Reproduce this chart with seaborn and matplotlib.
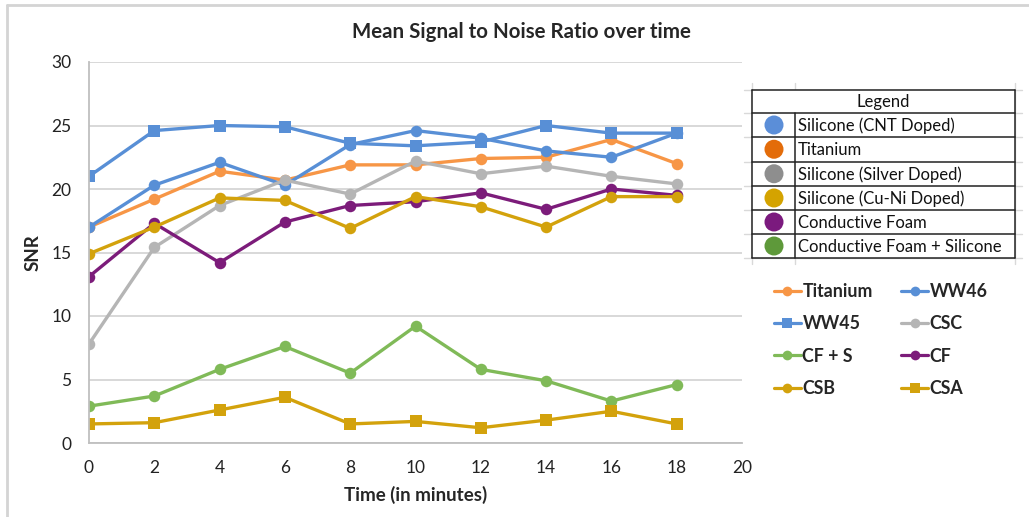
import numpy as np
import pandas as pd
import seaborn as sns
import matplotlib.pyplot as plt
from matplotlib.lines import Line2D
from matplotlib.patches import Circle

# ---- data ---------------------------------------------------------------
time_min = [0, 2, 4, 6, 8, 10, 12, 14, 16, 18]

titanium = [17.0, 19.2, 21.4, 20.7, 21.9, 21.9, 22.4, 22.5, 23.9, 22.0]
ww46 = [17.0, 20.3, 22.1, 20.3, 23.5, 24.6, 24.0, 23.0, 22.5, 24.4]
ww45 = [21.0, 24.6, 25.0, 24.9, 23.6, 23.4, 23.7, 25.0, 24.4, 24.4]
csc = [7.8, 15.4, 18.7, 20.7, 19.6, 22.2, 21.2, 21.8, 21.0, 20.4]
cf_s = [2.9, 3.7, 5.8, 7.6, 5.5, 9.2, 5.8, 4.9, 3.3, 4.6]
cf = [13.1, 17.3, 14.2, 17.4, 18.7, 19.0, 19.7, 18.4, 20.0, 19.5]
csb = [14.9, 17.0, 19.3, 19.1, 16.9, 19.4, 18.6, 17.0, 19.4, 19.4]
csa = [1.5, 1.6, 2.6, 3.6, 1.5, 1.7, 1.2, 1.8, 2.5, 1.5]

series_names = ["Titanium", "WW46", "WW45", "CSC", "CF + S", "CF", "CSB", "CSA"]
series_values = [titanium, ww46, ww45, csc, cf_s, cf, csb, csa]

material_labels = ["Silicone (CNT Doped)", "Titanium", "Silicone (Silver Doped)",
                   "Silicone (Cu-Ni Doped)", "Conductive Foam",
                   "Conductive Foam + Silicone"]

x_ticks = list(range(0, 21, 2))
y_ticks = list(range(0, 31, 5))

# ---- styles -------------------------------------------------------------
palette = {"Titanium": "#F79646", "WW46": "#588FD6", "WW45": "#588FD6",
           "CSC": "#B5B5B5", "CF + S": "#80BA58", "CF": "#7C1C7A",
           "CSB": "#D3A20C", "CSA": "#D3A20C"}
markers = {"Titanium": "o", "WW46": "o", "WW45": "s", "CSC": "o",
           "CF + S": "o", "CF": "o", "CSB": "o", "CSA": "s"}
material_colors = ["#5B8ED8", "#E36C0A", "#8E8E8E", "#D4A300", "#7B1A7E", "#5E993A"]

df = pd.DataFrame({
    "time": np.tile(time_min, len(series_names)),
    "snr": np.concatenate(series_values),
    "series": np.repeat(series_names, len(time_min)),
})

sns.set_style("white")
plt.rcParams["font.family"] = ["Lato", "DejaVu Sans"]

W, H = 1029, 517
fig = plt.figure(figsize=(W / 100, H / 100), dpi=100)


def px_rect(x0, y0, x1, y1):
    return [x0 / W, 1 - y1 / H, (x1 - x0) / W, (y1 - y0) / H]


ax = fig.add_axes(px_rect(89, 62, 742, 443))

sns.lineplot(data=df, x="time", y="snr", hue="series", style="series",
             hue_order=series_names, style_order=series_names,
             palette=palette, markers=markers, dashes=False,
             linewidth=2.4, markersize=8.3, markeredgewidth=0,
             legend=False, ax=ax)

ax.set_xlim(0, 20)
ax.set_ylim(0, 30)
ax.set_xticks(x_ticks)
ax.set_yticks(y_ticks)
ax.grid(axis="y", color="#D6D6D6", linewidth=1.3)
ax.set_axisbelow(True)
for side in ("top", "right"):
    ax.spines[side].set_visible(False)
for side in ("left", "bottom"):
    ax.spines[side].set_color("#BFBFBF")
    ax.spines[side].set_linewidth(1.3)
ax.tick_params(axis="both", length=4.5, width=1.2, color="#BFBFBF",
               labelsize=12.5, labelcolor="#222222", pad=8, direction="out")
ax.set_xlabel("Time (in minutes)", fontsize=13.5, fontweight="bold", labelpad=7)
ax.set_ylabel("SNR", fontsize=13.5, fontweight="bold", labelpad=7)
fig.text(521 / W, 1 - 32 / H, "Mean Signal to Noise Ratio over time",
         ha="center", va="center", fontsize=14.8, fontweight="bold")

# ---- line legend --------------------------------------------------------
handles = {n: Line2D([], [], color=palette[n], marker=markers[n], linewidth=2.3,
                     markersize=7, markeredgewidth=0) for n in series_names}
legend_order = ["Titanium", "WW45", "CF + S", "CSB", "WW46", "CSC", "CF", "CSA"]
fig.legend([handles[n] for n in legend_order], legend_order,
           loc="upper left", bbox_to_anchor=(758 / W, 1 - 267 / H),
           ncol=2, frameon=False, handlelength=1.5,
           handletextpad=0.1, columnspacing=1.6, labelspacing=0.86,
           prop={"weight": "bold", "size": 12.8})

# ---- material key table -------------------------------------------------
tab = fig.add_axes([0, 0, 1, 1], facecolor="none")
tab.set_xlim(0, W)
tab.set_ylim(H, 0)
tab.axis("off")

row_edges = [90, 113, 137, 161.5, 186, 210, 234, 258]
x_left, x_div, x_right = 752, 795, 1014.5

# faint sheet gridlines peeking out around the table
for y in row_edges:
    tab.plot([744, 1022], [y, y], color="#D9D9D9", linewidth=1, zorder=1)
for x in (x_left, x_div, x_right):
    tab.plot([x, x], [83, 264], color="#D9D9D9", linewidth=1, zorder=1)

tab.add_patch(plt.Rectangle((x_left, row_edges[0]), x_right - x_left,
                            row_edges[-1] - row_edges[0], facecolor="white",
                            edgecolor="none", zorder=2))
for y in row_edges:
    tab.plot([x_left, x_right], [y, y], color="#222222", linewidth=1.1, zorder=3)
tab.plot([x_left, x_left], [row_edges[0], row_edges[-1]], color="#222222", linewidth=1.1, zorder=3)
tab.plot([x_right, x_right], [row_edges[0], row_edges[-1]], color="#222222", linewidth=1.1, zorder=3)
tab.plot([x_div, x_div], [row_edges[1], row_edges[-1]], color="#222222", linewidth=1.1, zorder=3)

tab.text((x_left + x_right) / 2, (row_edges[0] + row_edges[1]) / 2 + 0.5, "Legend",
         ha="center", va="center", fontsize=12, color="#111111", zorder=4)
for i, (lab, col) in enumerate(zip(material_labels, material_colors)):
    yc = (row_edges[i + 1] + row_edges[i + 2]) / 2
    tab.add_patch(Circle((774, yc), 9.5, facecolor=col, edgecolor="none", zorder=4))
    tab.text(798, yc + 0.5, lab, ha="left", va="center", fontsize=12,
             color="#111111", zorder=4)

# chart-area frame edges
tab.plot([7, W], [5, 5], color="#D4D4D4", linewidth=2, zorder=0)
tab.plot([7, 7], [5, H], color="#D4D4D4", linewidth=2, zorder=0)

fig.savefig("out.png", dpi=100)
